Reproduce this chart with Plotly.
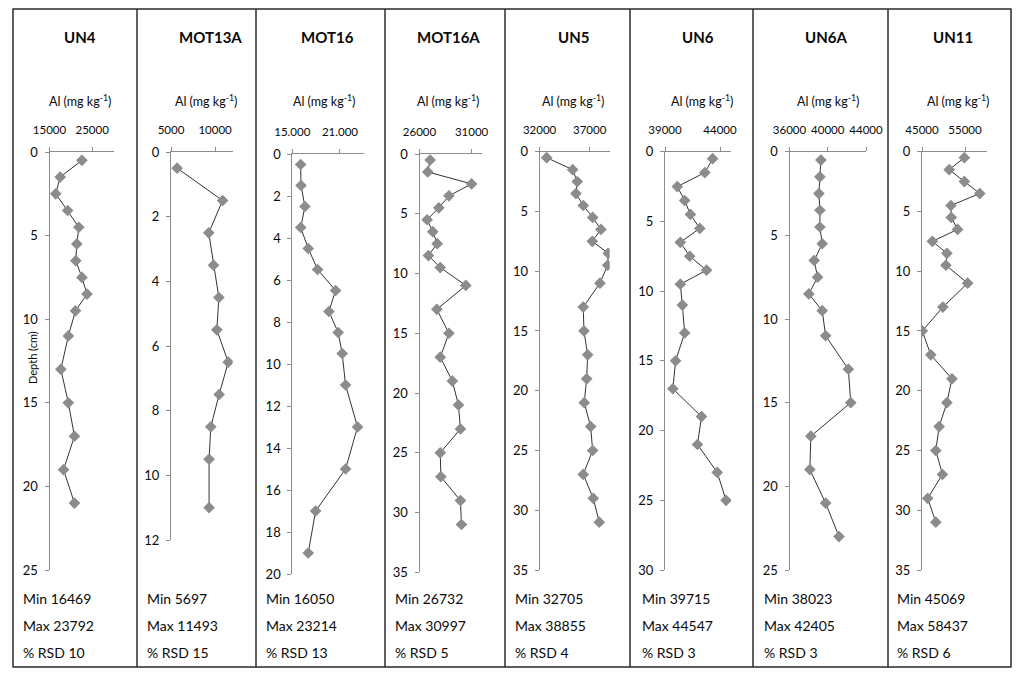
import plotly.graph_objects as go

W, H = 1025, 681

# ---------------- data ----------------
cores = ["UN4", "MOT13A", "MOT16", "MOT16A", "UN5", "UN6", "UN6A", "UN11"]

shallow = [0.5, 1.5, 2.5, 3.5, 4.5, 5.5, 6.5, 7.5, 8.5, 9.5]
depth_UN4 = shallow + [11, 13, 15, 17, 19, 21]
depth_MOT13A = shallow + [11]
depth_MOT16 = shallow + [11, 13, 15, 17, 19]
depth_MOT16A = shallow + [11, 13, 15, 17, 19, 21, 23, 25, 27, 29, 31]
depth_UN5 = shallow + [11, 13, 15, 17, 19, 21, 23, 25, 27, 29, 31]
depth_UN6 = shallow + [11, 13, 15, 17, 19, 21, 23, 25]
depth_UN6A = shallow + [11, 13, 15, 17, 19, 21, 23]
depth_UN11 = shallow + [11, 13, 15, 17, 19, 21, 23, 25, 27, 29, 31]

al_UN4 = [22596, 17498, 16469, 19245, 21878, 21400, 21160, 22596, 23792, 21088,
          19413, 17666, 19413, 20849, 18288, 20849]
al_MOT13A = [5697, 10853, 9284, 9822, 10430, 10200, 11493, 10465, 9513, 9320, 9320]
al_MOT16 = [16050, 16100, 16590, 16060, 17005, 18186, 20449, 19607, 20775, 21278,
            21705, 23214, 21705, 17935, 17005]
al_MOT16A = [27023, 26790, 30997, 28826, 27856, 26732, 27275, 27701, 26858, 27992,
             30444, 27662, 28826, 27992, 29155, 29737, 29930, 27992, 28050, 29930, 30027]
al_UN5 = [32705, 35301, 35760, 35630, 36359, 37298, 38126, 37258, 38855, 38790,
          38026, 36359, 36429, 36798, 36699, 36459, 37098, 37298, 36359, 37358, 37957]
al_UN6 = [43328, 42622, 40118, 40788, 41310, 42163, 40394, 41246, 42778, 40394,
          40577, 40788, 39963, 39715, 42319, 41952, 43749, 44547]
al_UN6A = [39284, 39179, 39074, 39179, 39179, 39421, 38580, 38937, 38023, 39421,
           39778, 42153, 42405, 38233, 38128, 39778, 41176]
al_UN11 = [54849, 51331, 54849, 58437, 51729, 51800, 53277, 47414, 50791, 50557,
           55622, 49853, 45069, 47039, 51964, 50791, 48986, 48212, 49759, 46335, 48212]

depths = [depth_UN4, depth_MOT13A, depth_MOT16, depth_MOT16A,
          depth_UN5, depth_UN6, depth_UN6A, depth_UN11]
values = [al_UN4, al_MOT13A, al_MOT16, al_MOT16A, al_UN5, al_UN6, al_UN6A, al_UN11]

# axis ranges and ticks
x_min = [15000, 5000, 15000, 26000, 32000, 39000, 36000, 45000]
x_max = [30000, 12000, 24000, 32000, 39000, 45000, 44000, 60000]
x_tickvals = [[15000, 25000], [5000, 10000], [15000, 21000], [26000, 31000],
              [32000, 37000], [39000, 44000], [36000, 40000, 44000], [45000, 55000]]
x_ticktext = [["15000", "25000"], ["5000", "10000"], ["15.000", "21.000"], ["26000", "31000"],
              ["32000", "37000"], ["39000", "44000"], ["36000", "40000", "44000"], ["45000", "55000"]]
depth_max = [25, 12, 20, 35, 35, 30, 25, 35]
depth_step = [5, 2, 2, 5, 5, 5, 5, 5]

stat_min = [16469, 5697, 16050, 26732, 32705, 39715, 38023, 45069]
stat_max = [23792, 11493, 23214, 30997, 38855, 44547, 42405, 58437]
stat_rsd = [10, 15, 13, 5, 4, 3, 3, 6]

# ---------------- layout geometry (pixels) ----------------
panel_edges = [13, 137, 256, 385, 505, 630, 753, 888, 1011]
frame_top, frame_bottom = 9, 667
ax_x0 = [49.5, 171.0, 292.3, 419.5, 539.6, 665.0, 789.5, 922.0]
ax_x1 = [113.5, 232.7, 363.8, 482.0, 609.7, 731.0, 866.0, 986.5]
ax_y0 = [152, 152, 154, 154, 151.7, 151.7, 151.7, 151.7]
ax_y1 = [570, 540, 574, 572.3, 570, 570, 570, 570]
title_x = [80, 210, 327, 448, 573, 698, 826, 953]
unit_x = [80, 206, 324, 448, 573, 702, 828, 958]
stat_x = [21, 145, 264, 393, 513, 640, 762, 895]

FONT = "Lato"
AXCOL = "#8c8c8c"
TXT = "#0a0a0a"


def px(x):
    return x / W


def py(y):
    return 1 - y / H


fig = go.Figure()
annotations = []
shapes = []

for i, name in enumerate(cores):
    k = "" if i == 0 else str(i + 1)
    fig.add_trace(go.Scatter(
        x=values[i], y=depths[i], mode="lines+markers",
        xaxis="x" + k, yaxis="y" + k,
        line=dict(color="#333333", width=1),
        marker=dict(symbol="diamond", size=9, color="#8c8c8c"),
        showlegend=False, hoverinfo="x+y",
    ))
    fig.update_layout(**{
        "xaxis" + k: dict(
            domain=[px(ax_x0[i]), px(ax_x1[i])], range=[x_min[i], x_max[i]],
            anchor="y" + k, side="top", showgrid=False, zeroline=False,
            showline=True, linecolor=AXCOL, linewidth=1,
            ticks="outside", ticklen=4, tickcolor=AXCOL,
            tickvals=x_tickvals[i], ticktext=x_ticktext[i],
            tickfont=dict(family=FONT, size=11.5, color=TXT),
            ticklabelstandoff=8, fixedrange=True, automargin=False,
        ),
        "yaxis" + k: dict(
            domain=[py(ax_y1[i]), py(ax_y0[i])], range=[depth_max[i], 0],
            anchor="x" + k, showgrid=False, zeroline=False,
            showline=True, linecolor=AXCOL, linewidth=1,
            ticks="outside", ticklen=4, tickcolor=AXCOL,
            dtick=depth_step[i], tick0=0,
            tickfont=dict(family=FONT, size=13, color=TXT),
            ticklabelstandoff=4, fixedrange=True, automargin=False,
        ),
    })
    annotations.append(dict(
        x=px(title_x[i]), y=py(37), xref="paper", yref="paper",
        text=name, showarrow=False,
        font=dict(family=FONT, size=15, color=TXT, weight="bold"),
        xanchor="center", yanchor="middle"))
    annotations.append(dict(
        x=px(unit_x[i]), y=py(100), xref="paper", yref="paper",
        text="Al (mg kg<sup>-1</sup>)", showarrow=False,
        font=dict(family=FONT, size=12.5, color=TXT),
        xanchor="center", yanchor="middle"))
    for j, (txt, yy) in enumerate([("Min %d" % stat_min[i], 598),
                                   ("Max %d" % stat_max[i], 625),
                                   ("%% RSD %d" % stat_rsd[i], 652)]):
        annotations.append(dict(
            x=px(stat_x[i]), y=py(yy), xref="paper", yref="paper",
            text=txt, showarrow=False,
            font=dict(family=FONT, size=14, color=TXT),
            xanchor="left", yanchor="middle"))

# depth axis title (first panel)
annotations.append(dict(
    x=px(32), y=py(358), xref="paper", yref="paper",
    text="Depth (cm)", showarrow=False, textangle=-90,
    font=dict(family=FONT, size=11, color=TXT),
    xanchor="center", yanchor="middle"))

# panel frames
shapes.append(dict(type="rect", xref="paper", yref="paper",
                   x0=px(panel_edges[0]), x1=px(panel_edges[-1]),
                   y0=py(frame_bottom), y1=py(frame_top),
                   line=dict(color="#2b2b2b", width=1.5)))
for e in panel_edges[1:-1]:
    shapes.append(dict(type="line", xref="paper", yref="paper",
                       x0=px(e), x1=px(e), y0=py(frame_bottom), y1=py(frame_top),
                       line=dict(color="#2b2b2b", width=1.5)))

fig.update_layout(
    autosize=True,
    margin=dict(l=0, r=0, t=0, b=0, pad=0, autoexpand=False),
    paper_bgcolor="white", plot_bgcolor="white",
    annotations=annotations, shapes=shapes,
    font=dict(family=FONT),
)

post_js = (
    "document.documentElement.style.margin='0';"
    "document.documentElement.style.padding='0';"
    "document.documentElement.style.overflow='hidden';"
    "document.body.style.margin='0';"
    "document.body.style.padding='0';"
    "document.body.style.overflow='hidden';"
    "var gd=document.getElementById('{plot_id}');"
    "var ww=window.innerWidth, hh=window.innerHeight;"
    "gd.style.width=ww+'px';gd.style.height=hh+'px';"
    "Plotly.relayout(gd,{width:ww,height:hh});"
)

fig.write_html("out.html", config={"displayModeBar": False},
               default_width="100%", default_height="100%",
               post_script=post_js)
